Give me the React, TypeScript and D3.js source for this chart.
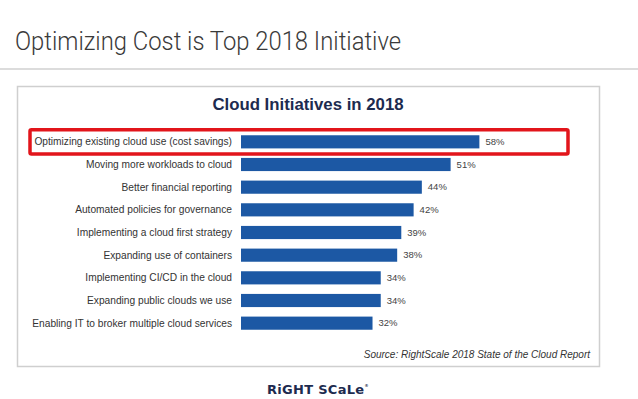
import { useEffect, useRef } from "react"
import * as d3 from "d3"

const categories = [
  "Optimizing existing cloud use (cost savings)",
  "Moving more workloads to cloud",
  "Better financial reporting",
  "Automated policies for governance",
  "Implementing a cloud first strategy",
  "Expanding use of containers",
  "Implementing CI/CD in the cloud",
  "Expanding public clouds we use",
  "Enabling IT to broker multiple cloud services",
]
const values = [58, 51, 44, 42, 39, 38, 34, 34, 32]
const highlighted = [true, false, false, false, false, false, false, false, false]

const W = 638
const H = 399

export default function App() {
  const svgRef = useRef<SVGSVGElement>(null)

  useEffect(() => {
    if (!svgRef.current) return
    const svg = d3.select(svgRef.current)
    svg.selectAll("*").remove()

    const font = "'Liberation Sans', Arial, sans-serif"

    // page header
    svg.append("text")
      .attr("x", 15)
      .attr("y", 50)
      .attr("font-family", "Roboto, 'Liberation Sans', sans-serif")
      .attr("font-weight", 300)
      .attr("font-size", 26)
      .attr("textLength", 386)
      .attr("lengthAdjust", "spacingAndGlyphs")
      .attr("fill", "#3a3a3a")
      .text("Optimizing Cost is Top 2018 Initiative")

    svg.append("line")
      .attr("x1", 0).attr("x2", W)
      .attr("y1", 69).attr("y2", 69)
      .attr("stroke", "#dcdcdc")
      .attr("stroke-width", 2)

    // panel
    svg.append("rect")
      .attr("x", 17.5).attr("y", 86.5)
      .attr("width", 582).attr("height", 280)
      .attr("fill", "#fff")
      .attr("stroke", "#cfcfcf")
      .attr("stroke-width", 1.5)

    svg.append("text")
      .attr("x", 308)
      .attr("y", 110)
      .attr("text-anchor", "middle")
      .attr("font-family", font)
      .attr("font-weight", "bold")
      .attr("font-size", 16.8)
      .attr("fill", "#1d2b4f")
      .text("Cloud Initiatives in 2018")

    const x = d3.scaleLinear().domain([0, 100]).range([241, 652])
    const y = d3.scaleBand<string>()
      .domain(categories)
      .range([130.5, 334.5])
      .paddingInner(0.42)
      .paddingOuter(0.21)

    const g = svg.append("g")

    g.selectAll("rect.bar")
      .data(categories)
      .enter()
      .append("rect")
      .attr("class", "bar")
      .attr("x", x(0))
      .attr("y", (d) => y(d)!)
      .attr("width", (_, i) => x(values[i]) - x(0))
      .attr("height", y.bandwidth())
      .attr("fill", "#1c58a4")

    g.selectAll("text.cat")
      .data(categories)
      .enter()
      .append("text")
      .attr("class", "cat")
      .attr("x", 232)
      .attr("y", (d) => y(d)! + y.bandwidth() / 2)
      .attr("dy", "0.35em")
      .attr("text-anchor", "end")
      .attr("font-family", font)
      .attr("font-size", 10.2)
      .attr("fill", "#333")
      .text((d) => d)

    g.selectAll("text.val")
      .data(categories)
      .enter()
      .append("text")
      .attr("class", "val")
      .attr("x", (_, i) => x(values[i]) + 6)
      .attr("y", (d) => y(d)! + y.bandwidth() / 2)
      .attr("dy", "0.35em")
      .attr("font-family", font)
      .attr("font-size", 9.5)
      .attr("fill", "#444")
      .text((_, i) => `${values[i]}%`)

    // highlight box
    categories.forEach((c, i) => {
      if (!highlighted[i]) return
      g.append("rect")
        .attr("x", 30)
        .attr("y", y(c)! - 5.5)
        .attr("width", 538)
        .attr("height", y.bandwidth() + 11)
        .attr("fill", "none")
        .attr("stroke", "#e2151b")
        .attr("stroke-width", 3.5)
        .attr("rx", 1.5)
    })

    svg.append("text")
      .attr("x", 590)
      .attr("y", 358)
      .attr("text-anchor", "end")
      .attr("font-family", font)
      .attr("font-style", "italic")
      .attr("font-size", 10)
      .attr("fill", "#333")
      .text("Source: RightScale 2018 State of the Cloud Report")

    // logo
    const logo = svg.append("text")
      .attr("x", 267)
      .attr("y", 394)
      .attr("font-family", "'DejaVu Sans', sans-serif")
      .attr("font-weight", "bold")
      .attr("font-size", 13)
      .attr("letter-spacing", 0.3)
      .attr("fill", "#1d2b4f")
    logo.append("tspan").text("RiGHT SCaLe")
    logo.append("tspan").attr("font-size", 4).attr("dy", -7).text("®")
  }, [])

  return (
    <div style={{ position: "absolute", left: 0, top: 0 }}>
      <svg ref={svgRef} width={W} height={H} style={{ display: "block", background: "#fff" }} />
    </div>
  )
}
